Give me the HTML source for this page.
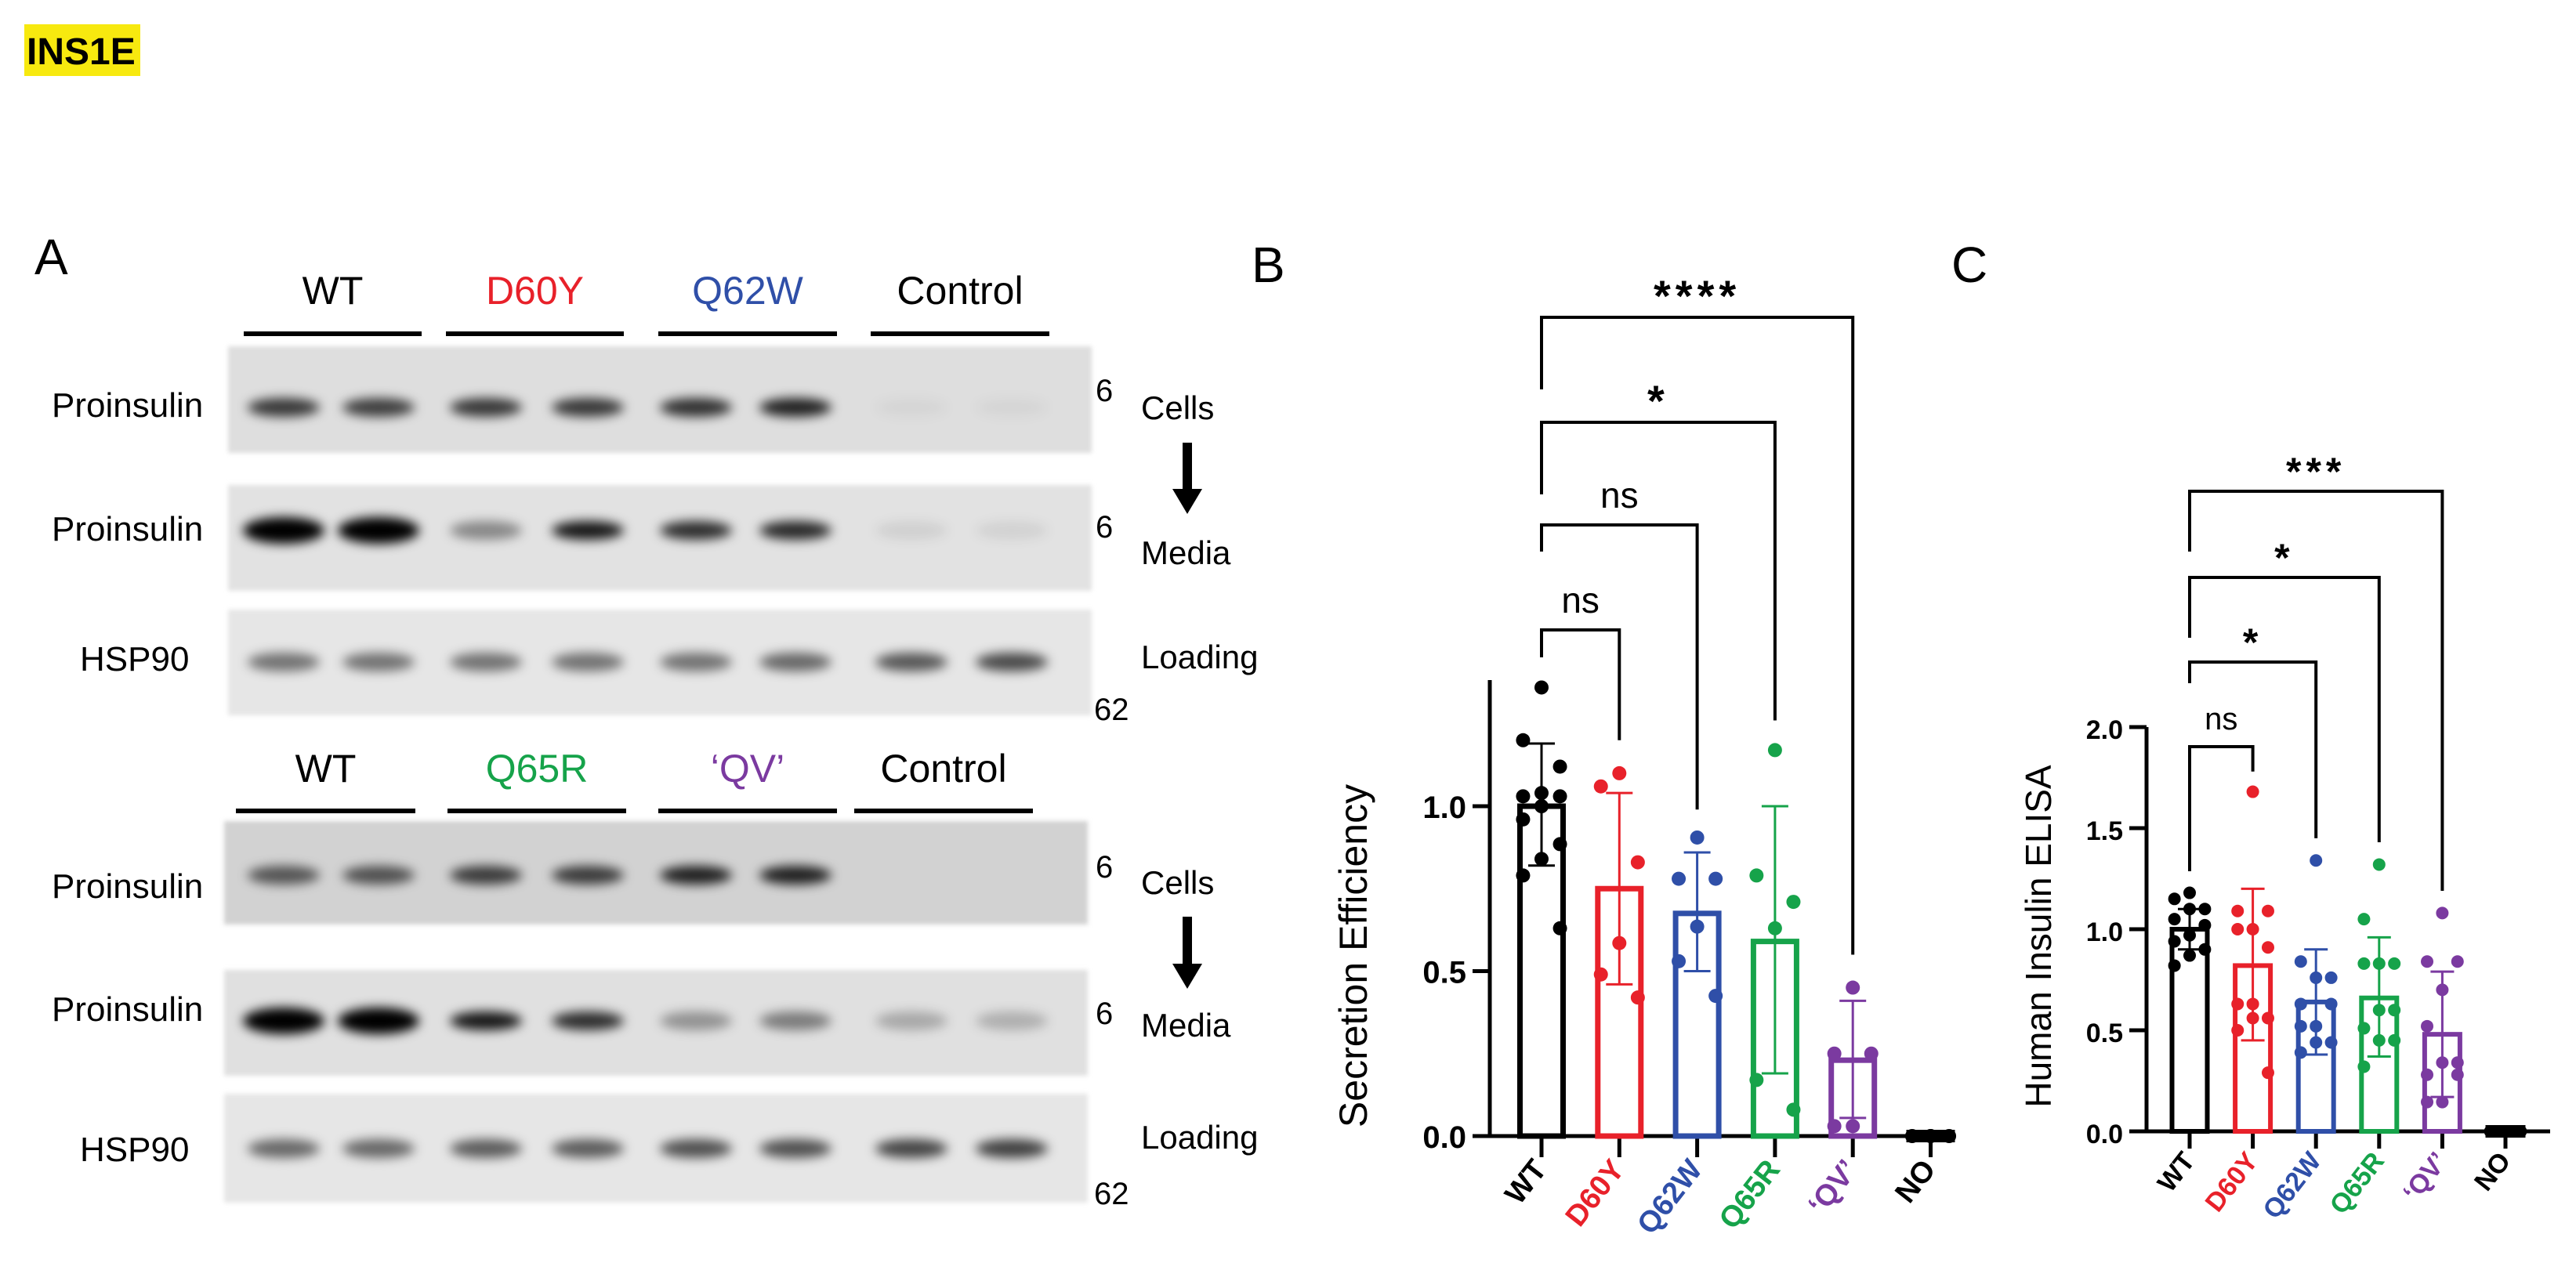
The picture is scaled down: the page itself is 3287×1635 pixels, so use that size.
<!DOCTYPE html>
<html><head><meta charset="utf-8"><style>
html,body{margin:0;padding:0;background:#fff;}
body{width:3287px;height:1630px;overflow:hidden;position:relative;font-family:"Liberation Sans",sans-serif;}
svg text{font-family:"Liberation Sans",sans-serif;}
</style></head><body>
<svg id="fig" width="3287" height="1630" viewBox="0 0 3287 1630" xmlns="http://www.w3.org/2000/svg">
<defs>
<filter id="blur" x="-50%" y="-100%" width="200%" height="300%"><feGaussianBlur stdDeviation="7"/></filter>
<filter id="blur2" x="-10%" y="-10%" width="120%" height="120%"><feGaussianBlur stdDeviation="3"/></filter>
</defs>
<rect x="31" y="31" width="148" height="66" fill="#f7e90f"/>
<text x="34" y="82" font-size="48" font-weight="bold">INS1E</text>
<text x="44" y="350" font-size="64">A</text>
<text x="1597" y="360" font-size="64">B</text>
<text x="2490" y="360" font-size="64">C</text>
<g id="blots"></g>
<g id="chartB"></g>
<g id="chartC"></g>
</svg>
<script>
const NS='http://www.w3.org/2000/svg';
function mk(parent,tag,attrs,txt){const e=document.createElementNS(NS,tag);for(const k in attrs)e.setAttribute(k,attrs[k]);if(txt!==undefined)e.textContent=txt;parent.appendChild(e);return e;}

// ---------- Western blots ----------
const laneX=[362,488,620,755,888,1020,1163,1296];
const blotRows=[
 {x:291,y:442,w:1102,h:136,bg:'#dedede',band:520,int:[0.75,0.72,0.75,0.75,0.78,0.85,0.04,0.04],label:'Proinsulin',ly:532,mw:'6',mwy:512,side:'Cells',sy:535},
 {x:291,y:619,w:1102,h:135,bg:'#e2e2e2',band:677,int:[1,1,0.4,0.9,0.8,0.82,0.08,0.07],label:'Proinsulin',ly:690,mw:'6',mwy:686,side:'Media',sy:720},
 {x:291,y:778,w:1102,h:135,bg:'#e6e6e6',band:845,int:[0.5,0.5,0.5,0.5,0.5,0.55,0.62,0.68],label:'HSP90',ly:856,mw:'',mwy:0,side:'Loading',sy:853},
 {x:286,y:1048,w:1102,h:132,bg:'#d2d2d2',band:1117,int:[0.6,0.62,0.72,0.72,0.85,0.85,0,0],label:'Proinsulin',ly:1146,mw:'6',mwy:1120,side:'Cells',sy:1141},
 {x:286,y:1238,w:1102,h:135,bg:'#e0e0e0',band:1303,int:[1,1,0.9,0.8,0.35,0.45,0.25,0.22],label:'Proinsulin',ly:1303,mw:'6',mwy:1307,side:'Media',sy:1323},
 {x:286,y:1396,w:1102,h:139,bg:'#e6e6e6',band:1466,int:[0.55,0.55,0.6,0.6,0.65,0.65,0.7,0.72],label:'HSP90',ly:1482,mw:'',mwy:0,side:'Loading',sy:1466}
];
const blots=document.getElementById('blots');
blotRows.forEach((r,ri)=>{
  const g=mk(blots,'g',{});
  
  
  mk(g,'rect',{x:r.x,y:r.y,width:r.w,height:r.h,fill:r.bg,filter:'url(#blur2)'});
  r.int.forEach((v,i)=>{
    if(v<=0)return;
    const big=v>=0.95;
    const b=mk(g,'ellipse',{cx:laneX[i]+(i%2?-5:0),cy:r.band,rx:big?52:46,ry:big?17:12,fill:'#000','fill-opacity':v,filter:'url(#blur)'});
    
    
  });
  const t=mk(g,'text',{x:r.label==='HSP90'?102:66,y:r.ly,'font-size':44},r.label);
  
  
  if(r.mw){const m=mk(g,'text',{x:1398,y:r.mwy,'font-size':40},r.mw);}
  const s=mk(g,'text',{x:1456,y:r.sy,'font-size':42},r.side);
  
  
});
[[905],[1523]].forEach(a=>{const m=mk(blots,'text',{x:1396,y:a[0]+14,'font-size':40},'62');});
// arrows
[[565,656],[1170,1262]].forEach(a=>{
  const g=mk(blots,'g',{});
  
  
  mk(g,'rect',{x:1509,y:a[0],width:12,height:a[1]-a[0]-30,fill:'#000'});
  mk(g,'polygon',{points:`1496,${a[1]-32} 1534,${a[1]-32} 1515,${a[1]}`,fill:'#000'});
});
const headers=[
 {y:388,ly:426,items:[['WT','#000',311,538],['D60Y','#e8212a',569,796],['Q62W','#2f4fa8',840,1068],['Control','#000',1111,1339]]},
 {y:998,ly:1035,items:[['WT','#000',301,530],['Q65R','#16a34a',571,799],['‘QV’','#7b3aa0',840,1068],['Control','#000',1090,1318]]}
];
headers.forEach(h=>h.items.forEach(it=>{
  const t=mk(blots,'text',{x:(it[2]+it[3])/2,y:h.y,'font-size':50,'text-anchor':'middle',fill:it[1]},it[0]);
  
  
  const l=mk(blots,'line',{x1:it[2],x2:it[3],y1:h.ly,y2:h.ly,stroke:'#000','stroke-width':6});
  
  
}));

// ---------- Chart data ----------
const categories=['WT','D60Y','Q62W','Q65R','‘QV’','NO'];
const catColors=['#000','#e8212a','#2f4fa8','#16a34a','#7b3aa0','#000'];
const meansB=[1.0,0.75,0.675,0.59,0.23,0.01];
const sdHighB=[1.19,1.04,0.86,1.0,0.41,0.01];
const sdLowB=[0.82,0.46,0.5,0.19,0.055,0.01];
const pointsB=[
 [1.36,1.20,1.12,1.04,1.03,1.03,1.0,0.96,0.885,0.84,0.79,0.63],
 [1.10,1.06,0.83,0.585,0.49,0.42],
 [0.905,0.78,0.78,0.635,0.53,0.425],
 [1.17,0.79,0.71,0.63,0.17,0.08],
 [0.45,0.25,0.25,0.03,0.03],
 [0,0,0,0]
];
const ticksB=[0.0,0.5,1.0];
const tickLabelsB=['0.0','0.5','1.0'];
const sigB=[['ns',1,1.2],['ns',2,0.99],['*',3,1.26],['****',4,0.55]];

const meansC=[1.0,0.82,0.64,0.66,0.48,0.01];
const sdHighC=[1.1,1.2,0.9,0.96,0.79,0.01];
const sdLowC=[0.9,0.45,0.38,0.37,0.17,0.01];
const pointsC=[
 [1.18,1.15,1.10,1.10,1.05,1.02,0.97,0.94,0.90,0.87,0.82],
 [1.68,1.09,1.09,1.0,1.0,0.91,0.63,0.63,0.56,0.56,0.5,0.29],
 [1.34,0.84,0.76,0.76,0.63,0.63,0.52,0.52,0.44,0.44,0.39],
 [1.32,1.05,0.83,0.83,0.83,0.6,0.6,0.51,0.45,0.45,0.32],
 [1.08,0.84,0.84,0.70,0.52,0.34,0.34,0.28,0.28,0.145,0.145],
 [0,0,0,0]
];
const ticksC=[0.0,0.5,1.0,1.5,2.0];
const tickLabelsC=['0.0','0.5','1.0','1.5','2.0'];
const sigC=[['ns',1,1.78],['*',2,1.45],['*',3,1.43],['***',4,1.19]];

function drawChart(gid,cfg){
  const root=document.getElementById(gid);
  const y=v=>cfg.y0-cfg.unit*v;
  const x=i=>cfg.x0+cfg.step*i;
  // y axis
  const ax=mk(root,'line',{x1:cfg.axX,x2:cfg.axX,y1:cfg.axTop,y2:cfg.y0+2,stroke:'#000','stroke-width':5});
  
  
  cfg.ticks.forEach((t,i)=>{
    mk(root,'line',{x1:cfg.axX-22,x2:cfg.axX,y1:y(t),y2:y(t),stroke:'#000','stroke-width':5});
    const lb=mk(root,'text',{x:cfg.axX-30,y:y(t)+15,'font-size':cfg.tickFs,'font-weight':'bold','text-anchor':'end'},cfg.tickLabels[i]);
    
    
  });
  const xa=mk(root,'line',{x1:cfg.axX-2,x2:cfg.axEnd,y1:cfg.y0,y2:cfg.y0,stroke:'#000','stroke-width':5});
  
  
  const yt=mk(root,'text',{x:cfg.titleX,y:cfg.titleY,'font-size':cfg.titleFs,'text-anchor':'middle',transform:`rotate(-90 ${cfg.titleX} ${cfg.titleY})`},cfg.title);
  
  
  categories.forEach((c,i)=>{
    const col=catColors[i];
    const g=mk(root,'g',{});
    
    
    mk(g,'line',{x1:x(i),x2:x(i),y1:cfg.y0,y2:cfg.y0+cfg.tickLen,stroke:'#000','stroke-width':5});
    const m=cfg.means[i];
    if(i===5){
      const b=mk(g,'rect',{x:x(i)-cfg.bw/2,y:cfg.y0-8,width:cfg.bw,height:16,fill:'#000'});
      
      
    }else{
      const b=mk(g,'rect',{x:x(i)-cfg.bw/2+cfg.sw/2,y:y(m),width:cfg.bw-cfg.sw,height:cfg.y0-y(m),fill:'none',stroke:col,'stroke-width':cfg.sw});
      
      
    }
    cfg.points[i].forEach((v,k)=>{
      const off=(k%3===0?0:(k%3===1?-1:1))*cfg.bw*0.38;
      const p=mk(g,'circle',{cx:x(i)+off,cy:y(v),r:cfg.r,fill:col});
      
      
    });
    if(i<5){
      const e=mk(g,'g',{stroke:col,'stroke-width':3});
      
      
      mk(e,'line',{x1:x(i),x2:x(i),y1:y(cfg.hi[i]),y2:y(cfg.lo[i])});
      mk(e,'line',{x1:x(i)-cfg.cap,x2:x(i)+cfg.cap,y1:y(cfg.hi[i]),y2:y(cfg.hi[i])});
      mk(e,'line',{x1:x(i)-cfg.cap,x2:x(i)+cfg.cap,y1:y(cfg.lo[i]),y2:y(cfg.lo[i])});
    }
    const lx=x(i)+8, ly=cfg.y0+cfg.tickLen+16;
    const t=mk(root,'text',{x:lx,y:ly,'font-size':cfg.labFs,'font-weight':'bold','text-anchor':'end',fill:col,transform:`rotate(-52 ${lx} ${ly})`},c);
    
    
  });
  cfg.sig.forEach((s,k)=>{
    const topY=cfg.sigTop[k];
    const g=mk(root,'g',{});
    
    
    const xr=x(s[1]);
    mk(g,'polyline',{points:`${x(0)},${cfg.sigLeft[k]} ${x(0)},${topY} ${xr},${topY} ${xr},${y(s[2])}`,fill:'none',stroke:'#000','stroke-width':4});
    const st=s[0]==='ns';
    mk(g,'text',{x:(x(0)+xr)/2,y:topY-(st?22:8),'font-size':st?cfg.nsFs:cfg.starFs,'font-weight':st?'normal':'bold','text-anchor':'middle','letter-spacing':st?0:6},s[0]);
  });
}
drawChart('chartB',{y0:1450,unit:421,x0:1967,step:99.3,axX:1901,axTop:868,axEnd:2495,bw:62,sw:7,r:9,cap:17,tickLen:27,
  ticks:ticksB,tickLabels:tickLabelsB,means:meansB,hi:sdHighB,lo:sdLowB,points:pointsB,sig:sigB,
  sigTop:[804,670,539,405],sigLeft:[839,704,631,497],tickFs:40,labFs:38,nsFs:46,starFs:56,
  title:'Secretion Efficiency',titleX:1744,titleY:1220,titleFs:50});
drawChart('chartC',{y0:1444,unit:258,x0:2794,step:80.6,axX:2739,axTop:928,axEnd:3254,bw:51,sw:6,r:8,cap:15,tickLen:22,
  ticks:ticksC,tickLabels:tickLabelsC,means:meansC,hi:sdHighC,lo:sdLowC,points:pointsC,sig:sigC,
  sigTop:[953,845,737,627],sigLeft:[1112,872,814,704],tickFs:34,labFs:34,nsFs:40,starFs:50,
  title:'Human Insulin ELISA',titleX:2617,titleY:1195,titleFs:46});
</script>
</body></html>
